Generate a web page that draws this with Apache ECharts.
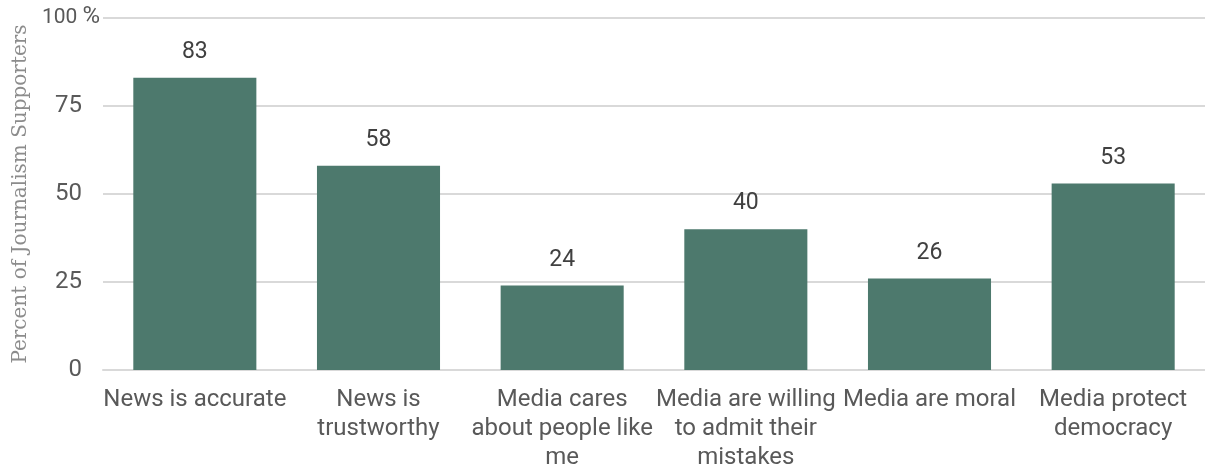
<!DOCTYPE html>
<html>
<head>
<meta charset="utf-8">
<script src="https://cdn.jsdelivr.net/npm/echarts@6/dist/echarts.min.js"></script>
<style>html,body{margin:0;padding:0;background:#fff;}#c{width:1205px;height:470px;}</style>
</head>
<body>
<div id="c"></div>
<script>
const categories = ['News is accurate', 'News is\ntrustworthy', 'Media cares\nabout people like\nme', 'Media are willing\nto admit their\nmistakes', 'Media are moral', 'Media protect\ndemocracy'];
const values = [83, 58, 24, 40, 26, 53];
const yTicks = [0, 25, 50, 75, 100];
const yAxisTitle = 'Percent of Journalism Supporters';

const chart = echarts.init(document.getElementById('c'));
chart.setOption({
  animation: false,
  grid: { left: 103, right: 0, top: 18, bottom: 100, containLabel: false, outerBoundsMode: 'none' },
  xAxis: {
    type: 'category',
    data: categories,
    axisLine: { show: true, lineStyle: { color: '#d9d9d9', width: 2 } },
    axisTick: { show: false },
    axisLabel: { interval: 0, color: '#595959', fontFamily: 'Roboto', fontSize: 24, lineHeight: 29, margin: 15 }
  },
  yAxis: {
    type: 'value', min: 0, max: 100, interval: 25,
    name: yAxisTitle, nameLocation: 'middle', nameGap: 72,
    nameTextStyle: { color: '#8c8c8c', fontFamily: 'DejaVu Serif', fontSize: 20 },
    axisLine: { show: false }, axisTick: { show: false },
    splitLine: { lineStyle: { color: '#d9d9d9', width: 2 } },
    axisLabel: {
      color: '#595959', fontFamily: 'Roboto', fontSize: 24, margin: 3,
      formatter: v => yTicks.indexOf(v) === yTicks.length - 1 ? '{n|' + v + '}{p|%}' : '{v|' + v + '}',
      rich: {
        v: { fontFamily: 'Roboto', fontSize: 24, color: '#595959', padding: [0, 18, 0, 0] },
        n: { fontFamily: 'Roboto', fontSize: 21, lineHeight: 27, color: '#595959', padding: [0, 5, 0, 0] },
        p: { fontFamily: 'Roboto', fontSize: 24, lineHeight: 22, color: '#595959', verticalAlign: 'top' }
      }
    }
  },
  series: [{
    type: 'bar',
    data: values,
    barCategoryGap: '33%',
    itemStyle: { color: '#4d796d' },
    label: { show: true, position: 'top', distance: 14, color: '#404040', fontFamily: 'Roboto', fontSize: 23 }
  }]
});
</script>
</body>
</html>
